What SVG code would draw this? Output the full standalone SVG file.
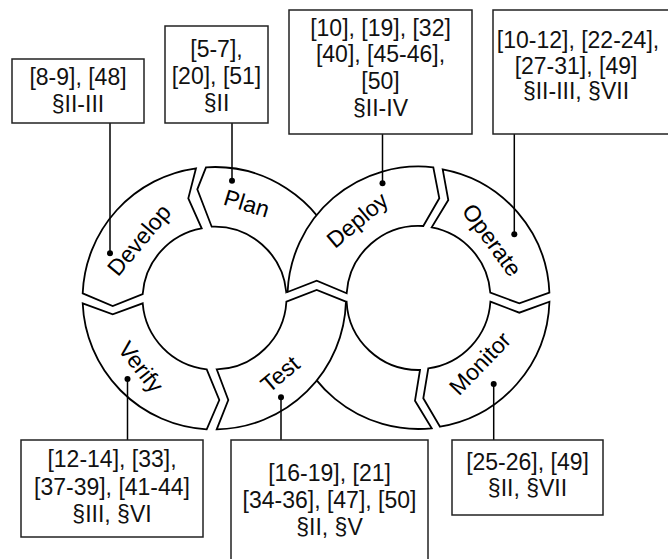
<svg xmlns="http://www.w3.org/2000/svg" width="668" height="559" viewBox="0 0 668 559">
<style>
.seg{fill:#fff;stroke:#000;stroke-width:1.8;stroke-linejoin:miter}
.lbl{font-family:"Liberation Sans",Arial,sans-serif;font-size:23px;fill:#000;text-anchor:middle}
.box{fill:#fff;stroke:#222;stroke-width:1.5}
.bt{font-family:"Liberation Sans",Arial,sans-serif;font-size:23px;fill:#111;text-anchor:middle}
.con{stroke:#000;stroke-width:1.5;fill:none}
.dot{fill:#000}
</style>
<rect width="668" height="559" fill="#fff"/>
<g id="ring">
<g id="plan"><path class="seg" d="M206,167.3 A131.5 131.5 0 0 1 338.1,253 L286.25,292 A72 72 0 0 0 211.7,226.7 L197.3,189.3 Z"/>
<text class="lbl" transform="translate(246.7,203.3) rotate(17)" y="8">Plan</text></g>
<g id="bridge"><path class="seg" d="M420,370 L415,400.7 L431.7,428.3 A131 131 0 0 1 288,309.4 L346.6,301.7 A72 72 0 0 0 420,370 Z"/></g>
<g id="develop"><path class="seg" d="M196,168.3 L188.3,198.3 L201.7,228.3 A72 72 0 0 0 142.7,294 L112.7,306 L82.7,293.3 A131.5 131.5 0 0 1 196,168.3 Z"/>
<text class="lbl" transform="translate(139,240) rotate(-50)" y="8">Develop</text></g>
<g id="verify"><path class="seg" d="M82.7,303.3 L112.7,314.3 L142.7,303.3 A72 72 0 0 0 206.7,369.3 L219.3,400 L206.7,429.3 A131.5 131.5 0 0 1 82.7,303.3 Z"/>
<text class="lbl" transform="translate(141,367) rotate(52)" y="8">Verify</text></g>
<g id="operate"><path class="seg" d="M442.7,169.3 L448.3,200 L431.7,227.3 A72 72 0 0 1 490.3,292.7 L519.3,303.3 L549.4,292.7 A131 131 0 0 0 442.7,169.3 Z"/>
<text class="lbl" transform="translate(492,240) rotate(54)" y="8">Operate</text></g>
<g id="monitor"><path class="seg" d="M490.4,301.7 L519.3,312.7 L549.45,301.7 A131 131 0 0 1 440,426.7 L423.3,398.3 L428.3,368.3 A72 72 0 0 0 490.4,301.7 Z"/>
<text class="lbl" transform="translate(480,363.3) rotate(-46)" y="8">Monitor</text></g>
<g id="deploy"><path class="seg" d="M287.6,292 L316.7,280.7 L346.65,293.3 A72 72 0 0 1 423.3,226 L439.3,198.3 L433.3,167.3 A131 131 0 0 0 287.6,292 Z"/>
<text class="lbl" transform="translate(357.3,220) rotate(-40)" y="8">Deploy</text></g>
<g id="test"><path class="seg" d="M216.7,369.3 L228.3,400 L216.7,429.3 A131.5 131.5 0 0 0 345.95,301.7 L316.7,290 L286.4,301.7 A72 72 0 0 1 216.7,369.3 Z"/>
<text class="lbl" transform="translate(280,374) rotate(-40)" y="8">Test</text></g>
</g>
<g id="connectors">
<line class="con" x1="110" y1="123" x2="110" y2="253.3"/><circle class="dot" cx="110" cy="253.3" r="3"/>
<line class="con" x1="232" y1="123" x2="232" y2="180.7"/><circle class="dot" cx="232" cy="180.7" r="3"/>
<line class="con" x1="382.5" y1="134" x2="382.5" y2="183.3"/><circle class="dot" cx="382.5" cy="183.3" r="3"/>
<line class="con" x1="514.3" y1="134" x2="514.3" y2="234.3"/><circle class="dot" cx="514.3" cy="234.3" r="3"/>
<line class="con" x1="127.5" y1="379" x2="127.5" y2="440"/><circle class="dot" cx="127.5" cy="379" r="3"/>
<line class="con" x1="281" y1="397.3" x2="281" y2="440"/><circle class="dot" cx="281" cy="397.3" r="3"/>
<line class="con" x1="493.7" y1="384" x2="493.7" y2="440"/><circle class="dot" cx="493.7" cy="384" r="3"/>
</g>
<g id="box-develop"><rect class="box" x="12" y="59" width="132" height="64"/>
<text class="bt" x="78" y="84.5">[8-9], [48]</text><text class="bt" x="78" y="111.5">§II-III</text></g>
<g id="box-plan"><rect class="box" x="165" y="26" width="103" height="97"/>
<text class="bt" x="216.5" y="57">[5-7],</text><text class="bt" x="216.5" y="84">[20], [51]</text><text class="bt" x="216.5" y="111">§II</text></g>
<g id="box-deploy"><rect class="box" x="289" y="10" width="183" height="124"/>
<text class="bt" x="380.5" y="35.5">[10], [19], [32]</text><text class="bt" x="380.5" y="62">[40], [45-46],</text><text class="bt" x="380.5" y="89">[50]</text><text class="bt" x="380.5" y="116">§II-IV</text></g>
<g id="box-operate"><rect class="box" x="493" y="10" width="190" height="124"/>
<text class="bt" x="578" y="48">[10-12], [22-24],</text><text class="bt" x="576" y="73.5">[27-31], [49]</text><text class="bt" x="576" y="99">§II-III, §VII</text></g>
<g id="box-verify"><rect class="box" x="21" y="440" width="182" height="97"/>
<text class="bt" x="112" y="467">[12-14], [33],</text><text class="bt" x="112" y="494.5">[37-39], [41-44]</text><text class="bt" x="112" y="521.5">§III, §VI</text></g>
<g id="box-test"><rect class="box" x="231" y="440" width="197" height="140"/>
<text class="bt" x="329.5" y="480.5">[16-19], [21]</text><text class="bt" x="329.5" y="508">[34-36], [47], [50]</text><text class="bt" x="329.5" y="535">§II, §V</text></g>
<g id="box-monitor"><rect class="box" x="452" y="440" width="151" height="75"/>
<text class="bt" x="527.5" y="469.5">[25-26], [49]</text><text class="bt" x="527.5" y="496">§II, §VII</text></g>
</svg>
